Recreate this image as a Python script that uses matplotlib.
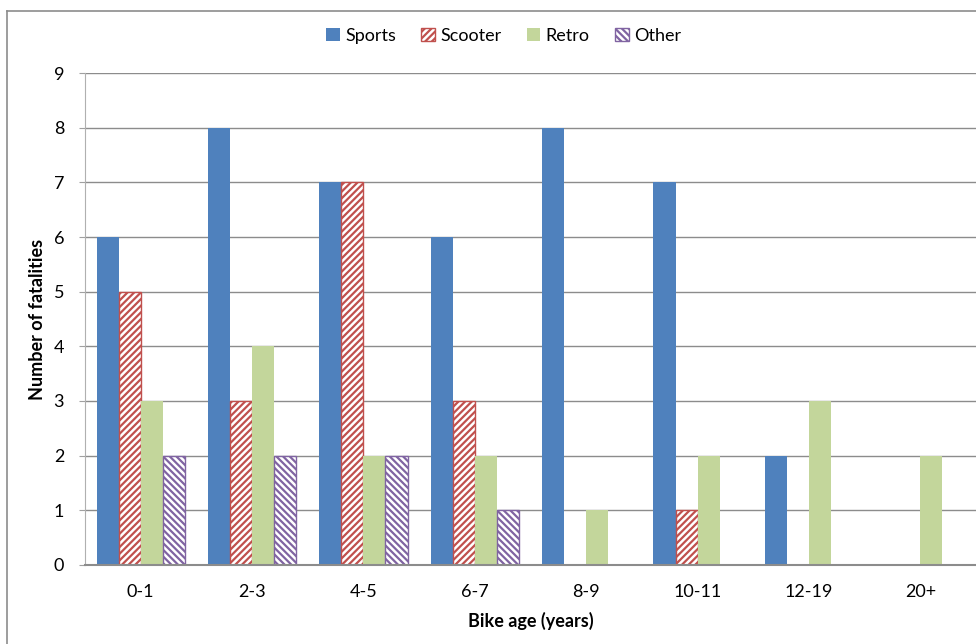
import numpy as np
import matplotlib.pyplot as plt
from matplotlib.lines import Line2D

# Data ####################################
age_groups = ['0-1', '2-3', '4-5', '6-7', '8-9', '10-11', '12-19', '20+']
sports = [6, 8, 7, 6, 8, 7, 2, 0]
scooter = [5, 3, 7, 3, 0, 1, 0, 0]
retro = [3, 4, 2, 2, 1, 2, 3, 2]
other = [2, 2, 2, 1, 0, 0, 0, 0]

plt.rcParams['font.family'] = ['Lato', 'DejaVu Sans']
plt.rcParams['hatch.linewidth'] = 1.6

fig = plt.figure(figsize=(9.76, 6.44), dpi=100)
ax = fig.add_axes([0.0871, 0.1227, 0.9129, 0.7639])
ax.set_axisbelow(True)

x = np.arange(len(age_groups))
w = 0.198
ax.bar(x - 1.5 * w, sports, w, color='#4F81BD', label='Sports', zorder=2)
ax.bar(x - 0.5 * w, scooter, w, color='white', edgecolor='#C0504D', hatch='/////',
       linewidth=1.0, label='Scooter', zorder=2)
ax.bar(x + 0.5 * w, retro, w, color='#C3D69B', label='Retro', zorder=2)
ax.bar(x + 1.5 * w, other, w, color='white', edgecolor='#8064A2', hatch='\\\\\\\\\\',
       linewidth=1.0, label='Other', zorder=2)

ax.set_xlim(-0.5, len(age_groups) - 0.5)
ax.set_ylim(0, 9)
ax.set_yticks(range(10))
ax.set_xticks(x)
ax.set_xticklabels(age_groups)
ax.yaxis.grid(True, color='#8C8C8C', linewidth=1.0)
ax.tick_params(axis='x', length=0, pad=14, labelsize=13)
ax.tick_params(axis='y', length=4, color='#A0A0A0', pad=11, labelsize=13)
for s in ['top', 'right']:
    ax.spines[s].set_visible(False)
ax.spines['left'].set_color('#B0B0B0')
ax.spines['bottom'].set_color('#8C8C8C')
ax.spines['bottom'].set_zorder(3)
ax.spines['bottom'].set_linewidth(1.5)

ax.set_xlabel('Bike age (years)', fontsize=13, fontweight='bold', labelpad=8)
ax.set_ylabel('Number of fatalities', fontsize=13, fontweight='bold')
ax.yaxis.set_label_coords(-0.0438, 0.5)

ax.legend(loc='center', bbox_to_anchor=(0.47, 1.075), ncol=4, frameon=False,
          fontsize=13, handlelength=0.75, handleheight=0.75, handletextpad=0.3,
          columnspacing=1.4)

# outer chart border (left and top only visible)
fig.add_artist(Line2D([0.0072, 0.0072], [0, 0.983], color='#8C8C8C', linewidth=1.2))
fig.add_artist(Line2D([0.0072, 1], [0.983, 0.983], color='#8C8C8C', linewidth=1.2))

fig.savefig('out.png', dpi=100)
